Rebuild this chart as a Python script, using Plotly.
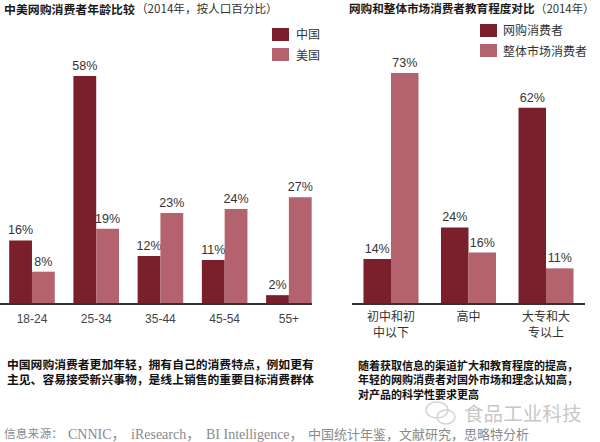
import plotly.graph_objects as go

age_groups = ["18-24", "25-34", "35-44", "45-54", "55+"]
china = [16, 58, 12, 11, 2]
usa = [8, 19, 23, 24, 27]

edu_levels = ["初中和初<br>中以下", "高中", "大专和大<br>专以上"]
online = [14, 24, 62]
overall = [73, 16, 11]

DARK = "#7a1f2c"
LIGHT = "#b4636e"
W, H = 600, 442
CJK = "Noto Sans CJK SC"

fig = go.Figure()


def pct(v):
    return [f"{x}%" for x in v]


label_font = dict(family="Liberation Sans", size=12.5, color="#333333")
for name, vals, col, xa, ya in [
    ("中国", china, DARK, "x", "y"),
    ("美国", usa, LIGHT, "x", "y"),
    ("网购消费者", online, DARK, "x2", "y2"),
    ("整体市场消费者", overall, LIGHT, "x2", "y2"),
]:
    cats = age_groups if xa == "x" else edu_levels
    fig.add_trace(go.Bar(
        x=cats, y=vals, name=name, xaxis=xa, yaxis=ya,
        marker=dict(color=col, line=dict(width=0)),
        text=pct(vals), textposition="outside", cliponaxis=False, constraintext="none",
        textfont=label_font, showlegend=False,
    ))

bottom = 1 - 303 / H
fig.update_layout(
    width=W, height=H, margin=dict(l=0, r=0, t=0, b=0),
    paper_bgcolor="white", plot_bgcolor="white",
    barmode="group", bargap=0.29, bargroupgap=0,
    font=dict(family=CJK, color="#222222"),
    xaxis=dict(domain=[0, 312 / W], range=[-0.498, 4.36], type="category",
               showline=True, linecolor="#333333", linewidth=1.5, ticks="", showgrid=False,
               ticklabelstandoff=4,
               tickfont=dict(family="Liberation Sans", size=12, color="#444444"),
               anchor="y"),
    yaxis=dict(domain=[bottom, 1], range=[0, 303 / 3.914], visible=False, anchor="x"),
    xaxis2=dict(domain=[352 / W, 585 / W], range=[-0.503, 2.503], type="category",
                showline=True, linecolor="#333333", linewidth=1.5, ticks="", showgrid=False,
                ticklabelstandoff=2,
                tickfont=dict(family=CJK, size=12, color="#333333"),
                anchor="y2"),
    yaxis2=dict(domain=[bottom, 1], range=[0, 303 / 3.15], visible=False, anchor="x2"),
)


def note(x, y, text, size, color="#222222", anchor="left", bold=False, family=CJK):
    fig.add_annotation(
        x=x / W, y=1 - y / H, xref="paper", yref="paper", text=f"<b>{text}</b>" if bold else text,
        showarrow=False, xanchor=anchor, yanchor="middle", align="left",
        font=dict(family=family, size=size, color=color),
    )


note(2, 8, "中美网购消费者年龄比较", 11.9, "#1a1a1a", bold=True)
note(134, 8, "（2014年，按人口百分比）", 11.6, "#333333")
note(347, 8, "网购和整体市场消费者教育程度对比", 11.6, "#1a1a1a", bold=True)
note(533, 8, "（2014年）", 11.4, "#333333")

for (x0, y0, col, x_t, txt) in [
    (272, 28, DARK, 294, "中国"),
    (272, 48, LIGHT, 294, "美国"),
    (480, 24, DARK, 501, "网购消费者"),
    (480, 44, LIGHT, 501, "整体市场消费者"),
]:
    fig.add_shape(type="rect", xref="paper", yref="paper", x0=x0 / W, x1=(x0 + 17) / W,
                  y0=1 - y0 / H, y1=1 - (y0 + 13) / H, fillcolor=col, line_width=0)
    note(x_t, y0 + 6, txt, 12, "#333333")

note(5, 371, "中国网购消费者更加年轻，拥有自己的消费特点，例如更有<br>主见、容易接受新兴事物，是线上销售的重要目标消费群体",
     11.8, "#111111", bold=True)
note(356, 379, "随着获取信息的渠道扩大和教育程度的提高，<br>年轻的网购消费者对国外市场和理念认知高，<br>对产品的科学性要求更高",
     11, "#111111", bold=True)
serif = "Liberation Serif, Noto Sans CJK SC"
note(2, 434, "信息来源：", 11.8, "#8a8a8a", family=serif)
note(66, 434, "CNNIC，", 14, "#8a8a8a", family=serif)
note(129, 434, "iResearch，", 14, "#8a8a8a", family=serif)
note(204, 434, "BI Intelligence，", 14, "#8a8a8a", family=serif)
note(306, 434, "中国统计年鉴，文献研究，思略特分析", 13, "#8a8a8a", family=serif)
note(462, 412, "食品工业科技", 19.6, "#c8c8c8")

for cx, cy, rx, ry in [(437, 410, 11, 8), (446, 417, 9, 7)]:
    fig.add_shape(type="circle", xref="paper", yref="paper",
                  x0=(cx - rx) / W, x1=(cx + rx) / W, y0=1 - (cy + ry) / H, y1=1 - (cy - ry) / H,
                  line=dict(color="#d4d4d4", width=1.5), fillcolor="rgba(0,0,0,0)")

fig.write_html("out.html", config=dict(displayModeBar=False),
               post_script="document.body.style.margin='0';")
